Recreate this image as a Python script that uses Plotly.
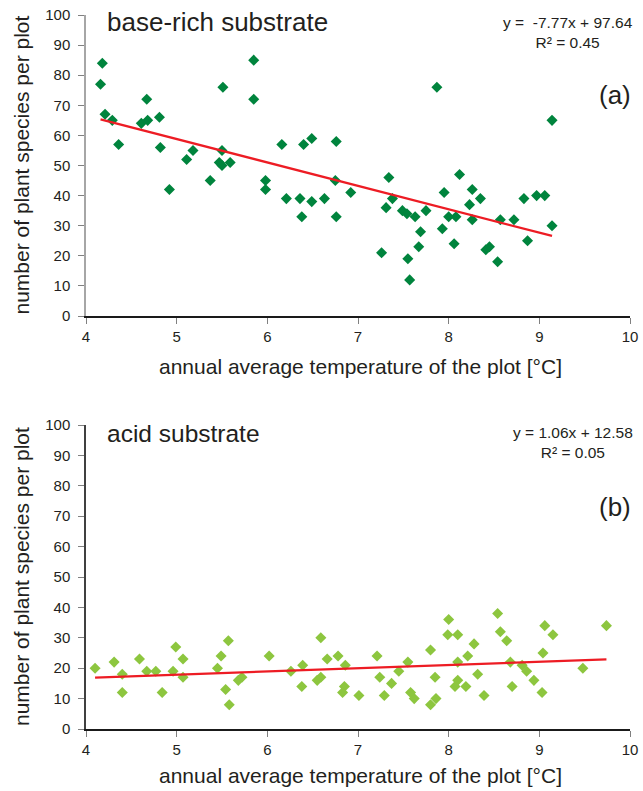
import plotly.graph_objects as go

# ---- data: base-rich substrate (a) ----
temp_a = [4.18, 4.16, 4.21, 4.29, 4.36, 4.61, 4.68, 4.67, 4.81, 4.82, 4.92, 5.11, 5.18,
          5.37, 5.51, 5.50, 5.47, 5.50, 5.59, 5.85, 5.85, 5.98, 5.98, 6.16, 6.21, 6.36,
          6.38, 6.40, 6.49, 6.49, 6.63, 6.76, 6.75, 6.76, 6.92, 7.87, 9.14, 7.34, 7.38,
          7.31, 7.26, 7.49, 7.54, 7.63, 7.75, 7.69, 7.67, 7.55, 7.57, 7.95, 7.93, 8.00,
          8.08, 8.06, 8.12, 8.26, 8.23, 8.35, 8.26, 8.41, 8.45, 8.54, 8.57, 8.72, 8.83,
          8.87, 8.97, 9.06, 9.14]
species_a = [84, 77, 67, 65, 57, 64, 65, 72, 66, 56, 42, 52, 55,
             45, 76, 55, 51, 50, 51, 85, 72, 45, 42, 57, 39, 39,
             33, 57, 59, 38, 39, 58, 45, 33, 41, 76, 65, 46, 39,
             36, 21, 35, 34, 33, 35, 28, 23, 19, 12, 41, 29, 33,
             33, 24, 47, 42, 37, 39, 32, 22, 23, 18, 32, 32, 39,
             25, 40, 40, 30]
slope_a, intercept_a, r2_a = -7.77, 97.64, 0.45

# ---- data: acid substrate (b) ----
temp_b = [4.10, 4.31, 4.40, 4.40, 4.59, 4.67, 4.77, 4.84, 4.96, 4.99, 5.07, 5.07, 5.45,
          5.49, 5.54, 5.57, 5.58, 5.68, 5.72, 6.02, 6.26, 6.39, 6.38, 6.55, 6.59, 6.59,
          6.66, 6.78, 6.86, 6.85, 6.83, 7.01, 7.21, 7.24, 7.29, 7.37, 7.45, 7.55, 7.58,
          7.62, 7.80, 7.85, 7.80, 7.86, 8.00, 7.99, 8.10, 8.10, 8.10, 8.07, 8.19, 8.21,
          8.28, 8.32, 8.39, 8.54, 8.57, 8.64, 8.68, 8.70, 8.81, 8.86, 8.94, 9.03, 9.04,
          9.06, 9.15, 9.48, 9.74]
species_b = [20, 22, 18, 12, 23, 19, 19, 12, 19, 27, 23, 17, 20,
             24, 13, 29, 8, 16, 17, 24, 19, 21, 14, 16, 17, 30,
             23, 24, 21, 14, 12, 11, 24, 17, 11, 15, 19, 22, 12,
             10, 26, 17, 8, 10, 36, 31, 31, 22, 16, 14, 14, 24,
             28, 18, 11, 38, 32, 29, 22, 14, 21, 19, 16, 12, 25,
             34, 31, 20, 34]
slope_b, intercept_b, r2_b = 1.06, 12.58, 0.05

titles = ["base-rich substrate", "acid substrate"]
panel_labels = ["(a)", "(b)"]
x_title = "annual average temperature of the plot [°C]"
y_title = "number of plant species per plot"

W, H = 643, 791
FONT = "Liberation Sans, Arial, Helvetica, sans-serif"
TXT = "#231f20"

def px(x):
    return x / W

def py(y):
    return 1 - y / H

fig = go.Figure()

panels = [
    dict(x=temp_a, y=species_a, m=slope_a, b=intercept_a, r2=r2_a,
         color="#00843d", top=15, bottom=316, xa="x", ya="y", ylinecolor="#a6a6a6"),
    dict(x=temp_b, y=species_b, m=slope_b, b=intercept_b, r2=r2_b,
         color="#8dc63f", top=425, bottom=729, xa="x2", ya="y2", ylinecolor="#404040"),
]

annotations = []
for i, p in enumerate(panels):
    fig.add_trace(go.Scatter(
        x=p["x"], y=p["y"], mode="markers", xaxis=p["xa"], yaxis=p["ya"],
        marker=dict(symbol="diamond", size=8.5, color=p["color"], line=dict(width=0)),
        showlegend=False, hoverinfo="x+y"))
    x0, x1 = min(p["x"]), max(p["x"])
    fig.add_trace(go.Scatter(
        x=[x0, x1], y=[p["m"] * x0 + p["b"], p["m"] * x1 + p["b"]],
        mode="lines", xaxis=p["xa"], yaxis=p["ya"],
        line=dict(color="#ed1c24", width=2.2), showlegend=False, hoverinfo="skip"))

    sfx = "" if i == 0 else "2"
    dom_y = [py(p["bottom"]), py(p["top"])]
    fig.layout["xaxis" + sfx] = dict(
        domain=[px(86), px(630)], anchor="y" + sfx, range=[4, 10], dtick=1, tick0=4,
        showgrid=False, zeroline=False, showline=True, linecolor="#1a1a1a", linewidth=1.5,
        ticks="outside", ticklen=6, tickwidth=1, tickcolor="#808080",
        tickfont=dict(family=FONT, size=15, color=TXT), automargin=False, fixedrange=True)
    fig.layout["yaxis" + sfx] = dict(
        domain=dom_y, anchor="x" + sfx, range=[0, 100], dtick=10, tick0=0,
        showgrid=False, zeroline=False, showline=True, linecolor=p["ylinecolor"], linewidth=1.5,
        ticks="outside", ticklen=6, tickwidth=1, tickcolor="#808080",
        ticklabelstandoff=5,
        tickfont=dict(family=FONT, size=15, color=TXT), automargin=False, fixedrange=True)

    if p["m"] < 0:
        eq = f"y =  -{abs(p['m']):.2f}x + {p['b']:.2f}"
    else:
        eq = f"y = {p['m']:.2f}x + {p['b']:.2f}"
    eq_y = 32.5 if i == 0 else 442
    eq_x = 568 if i == 0 else 573
    annotations.append(dict(
        text=f"{eq}<br>R² = {p['r2']:.2f}", x=px(eq_x), y=py(eq_y), xref="paper", yref="paper",
        xanchor="center", yanchor="middle", align="center", showarrow=False,
        font=dict(family=FONT, size=15.5, color=TXT)))

    # panel title
    t_y = 22 if i == 0 else 433
    annotations.append(dict(
        text=titles[i], x=px(105), y=py(t_y), xref="paper", yref="paper",
        xanchor="left", yanchor="middle", showarrow=False,
        font=dict(family=FONT, size=26 if i == 0 else 24.5, color=TXT)))
    # panel label
    l_y = 95 if i == 0 else 506.7
    annotations.append(dict(
        text=panel_labels[i], x=px(633), y=py(l_y), xref="paper", yref="paper",
        xanchor="right", yanchor="middle", showarrow=False,
        font=dict(family=FONT, size=26, color=TXT)))
    # x title
    xt_y = 366.5 if i == 0 else 775
    annotations.append(dict(
        text=x_title, x=px(360), y=py(xt_y), xref="paper", yref="paper",
        xanchor="center", yanchor="middle", showarrow=False,
        font=dict(family=FONT, size=21, color=TXT)))
    # y title
    annotations.append(dict(
        text=y_title, x=px(21), y=py((p["top"] + p["bottom"]) / 2), xref="paper", yref="paper",
        xanchor="center", yanchor="middle", textangle=-90, showarrow=False,
        font=dict(family=FONT, size=21, color=TXT)))

fig.update_layout(
    width=W, height=H, margin=dict(l=0, r=0, t=0, b=0),
    paper_bgcolor="white", plot_bgcolor="white",
    annotations=annotations, showlegend=False)

fig.write_html("out.html")
